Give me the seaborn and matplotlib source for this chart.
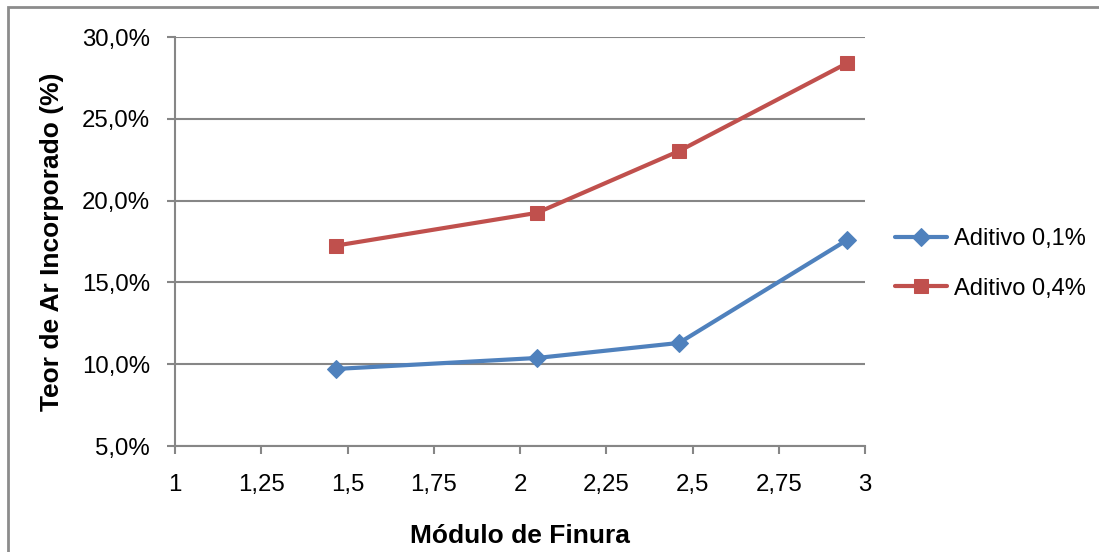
import matplotlib
matplotlib.use("Agg")
import matplotlib.pyplot as plt
import seaborn as sns
import pandas as pd
from matplotlib.ticker import FuncFormatter, MultipleLocator
from matplotlib.patches import Rectangle

sns.set_theme(style="white")
plt.rcParams['font.family'] = ['Liberation Sans', 'DejaVu Sans']
plt.rcParams['text.color'] = 'black'
plt.rcParams['axes.labelcolor'] = 'black'

series_names = ["Aditivo 0,1%", "Aditivo 0,4%"]
modulo = [1.467, 2.049, 2.461, 2.948]
aditivo_01 = [9.71, 10.38, 11.30, 17.59]
aditivo_04 = [17.25, 19.25, 23.03, 28.40]

df = pd.DataFrame({
    "x": modulo * 2,
    "y": aditivo_01 + aditivo_04,
    "serie": [series_names[0]] * 4 + [series_names[1]] * 4,
})

colors = {series_names[0]: "#4F81BD", series_names[1]: "#C0504D"}
markers = {series_names[0]: "D", series_names[1]: "s"}
msize = {series_names[0]: 9, series_names[1]: 10.5}

fig = plt.figure(figsize=(10.99, 5.52), dpi=100)
ax = fig.add_axes([175/1099, 1-446/552, (865-175)/1099, (446-37)/552])

for name in series_names:
    sub = df[df["serie"] == name]
    sns.lineplot(data=sub, x="x", y="y", ax=ax, color=colors[name],
                 marker=markers[name], markersize=msize[name],
                 markeredgecolor=colors[name], linewidth=3, label=name)

ax.set_xlim(1, 3)
ax.set_ylim(5, 30)
ax.xaxis.set_major_locator(MultipleLocator(0.25))
ax.yaxis.set_major_locator(MultipleLocator(5))

def xfmt(v, pos):
    s = ("%.2f" % v).rstrip("0").rstrip(".")
    return s.replace(".", ",")

ax.xaxis.set_major_formatter(FuncFormatter(xfmt))
ax.yaxis.set_major_formatter(FuncFormatter(lambda v, p: ("%.1f%%" % v).replace(".", ",")))

grid_c = "#868686"
ax.grid(axis="y", color=grid_c, linewidth=1.5)
ax.set_axisbelow(True)
for s in ["top", "right"]:
    ax.spines[s].set_visible(False)
for s in ["left", "bottom"]:
    ax.spines[s].set_color(grid_c)
    ax.spines[s].set_linewidth(1.5)

ax.tick_params(axis="both", which="major", direction="out", length=6, width=1.5,
               color=grid_c, labelsize=17.3, labelcolor="black", bottom=True, left=True)
ax.tick_params(axis="x", pad=14)
ax.tick_params(axis="y", pad=12)

ax.set_xlabel("Módulo de Finura", fontsize=19, fontweight="bold", labelpad=20, color="black")
ax.set_ylabel("Teor de Ar Incorporado (%)", fontsize=19, fontweight="bold", labelpad=13, color="black")

leg = ax.legend(loc="upper left", bbox_to_anchor=(1.03, 0.555), frameon=False,
                fontsize=17, handlelength=2.2, handletextpad=0.3, labelspacing=1.15,
                borderaxespad=0)

fig.add_artist(Rectangle((8/1099, -0.1), 1.2, 1 - 7/552 + 0.1, transform=fig.transFigure,
                         fill=False, edgecolor="#8C8C8C", linewidth=2))

fig.savefig("out.png", dpi=100)
